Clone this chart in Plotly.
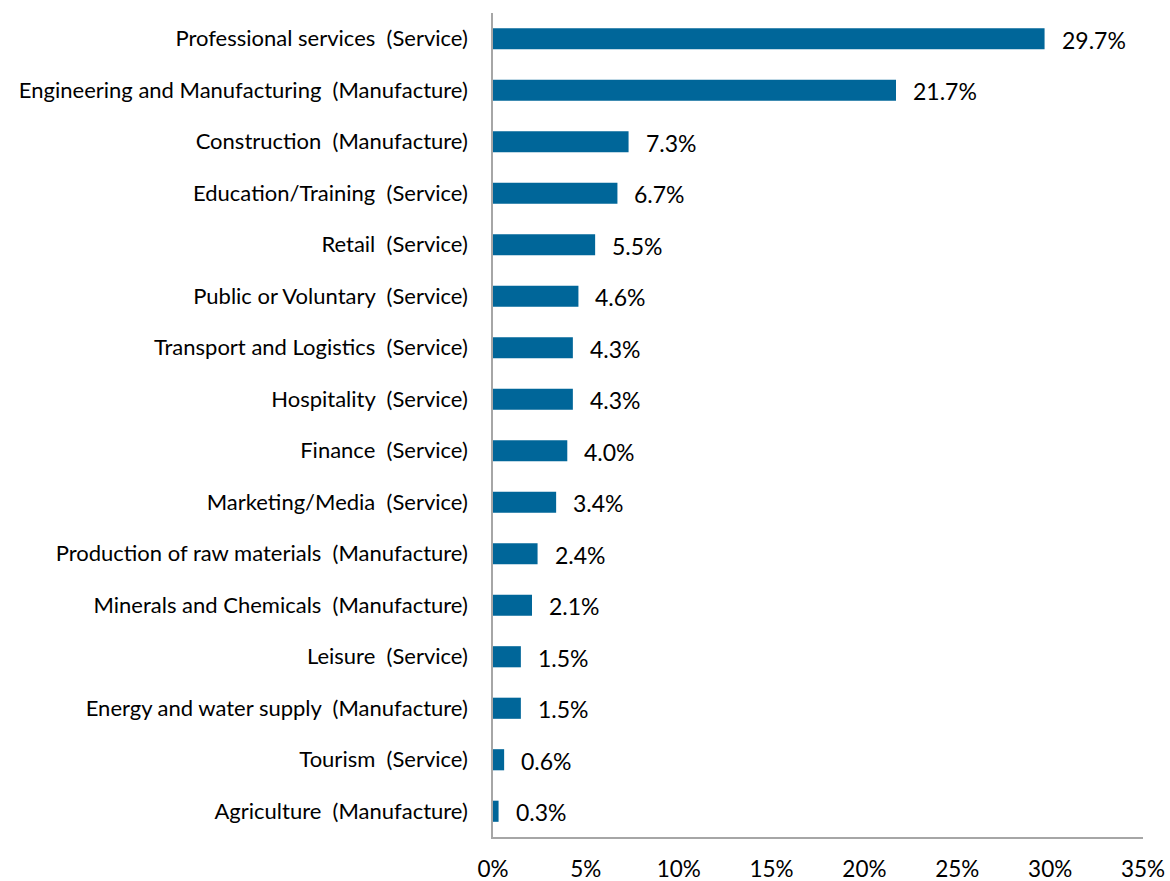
import plotly.graph_objects as go

sectors = [
    "Professional services  (Service)",
    "Engineering and Manufacturing  (Manufacture)",
    "Construction  (Manufacture)",
    "Education/Training  (Service)",
    "Retail  (Service)",
    "Public or Voluntary  (Service)",
    "Transport and Logistics  (Service)",
    "Hospitality  (Service)",
    "Finance  (Service)",
    "Marketing/Media  (Service)",
    "Production of raw materials  (Manufacture)",
    "Minerals and Chemicals  (Manufacture)",
    "Leisure  (Service)",
    "Energy and water supply  (Manufacture)",
    "Tourism  (Service)",
    "Agriculture  (Manufacture)",
]
shares = [29.7, 21.7, 7.3, 6.7, 5.5, 4.6, 4.3, 4.3, 4.0, 3.4, 2.4, 2.1, 1.5, 1.5, 0.6, 0.3]
x_ticks = [0, 5, 10, 15, 20, 25, 30, 35]
x_tick_labels = [f"{t}%" for t in x_ticks]

FONT = "Lato"
BAR_COLOR = "#006699"
AXIS_COLOR = "#A6A6A6"

fig = go.Figure(
    go.Bar(
        x=shares,
        y=sectors,
        orientation="h",
        marker=dict(color=BAR_COLOR, line=dict(width=0)),
        hoverinfo="skip",
    )
)

for name, val in zip(sectors, shares):
    fig.add_annotation(
        x=val, y=name, text=f"{val:.1f}%", showarrow=False,
        xanchor="left", yanchor="middle", xshift=15, yshift=-1,
        font=dict(family=FONT, size=23, color="#000000"),
    )

fig.update_layout(
    width=1170, height=881,
    margin=dict(l=493, r=27, t=13, b=44),
    paper_bgcolor="white", plot_bgcolor="white",
    bargap=0.59,
    showlegend=False,
    font=dict(family=FONT, size=22, color="#000000"),
)
fig.update_xaxes(
    range=[0, 35], tickvals=x_ticks, ticktext=x_tick_labels,
    showgrid=False, zeroline=False, automargin=False,
    showline=True, linecolor=AXIS_COLOR, linewidth=1.5,
    ticks="outside", ticklen=11, tickcolor="rgba(0,0,0,0)",
    tickfont=dict(family=FONT, size=22.5, color="#000000"),
)
fig.update_yaxes(
    categoryorder="array", categoryarray=sectors, autorange="reversed",
    showgrid=False, zeroline=False, automargin=False,
    showline=True, linecolor=AXIS_COLOR, linewidth=1.5,
    ticks="outside", ticklen=19, tickcolor="rgba(0,0,0,0)",
    tickfont=dict(family=FONT, size=22, color="#000000"),
)

fig.write_html("out.html")
